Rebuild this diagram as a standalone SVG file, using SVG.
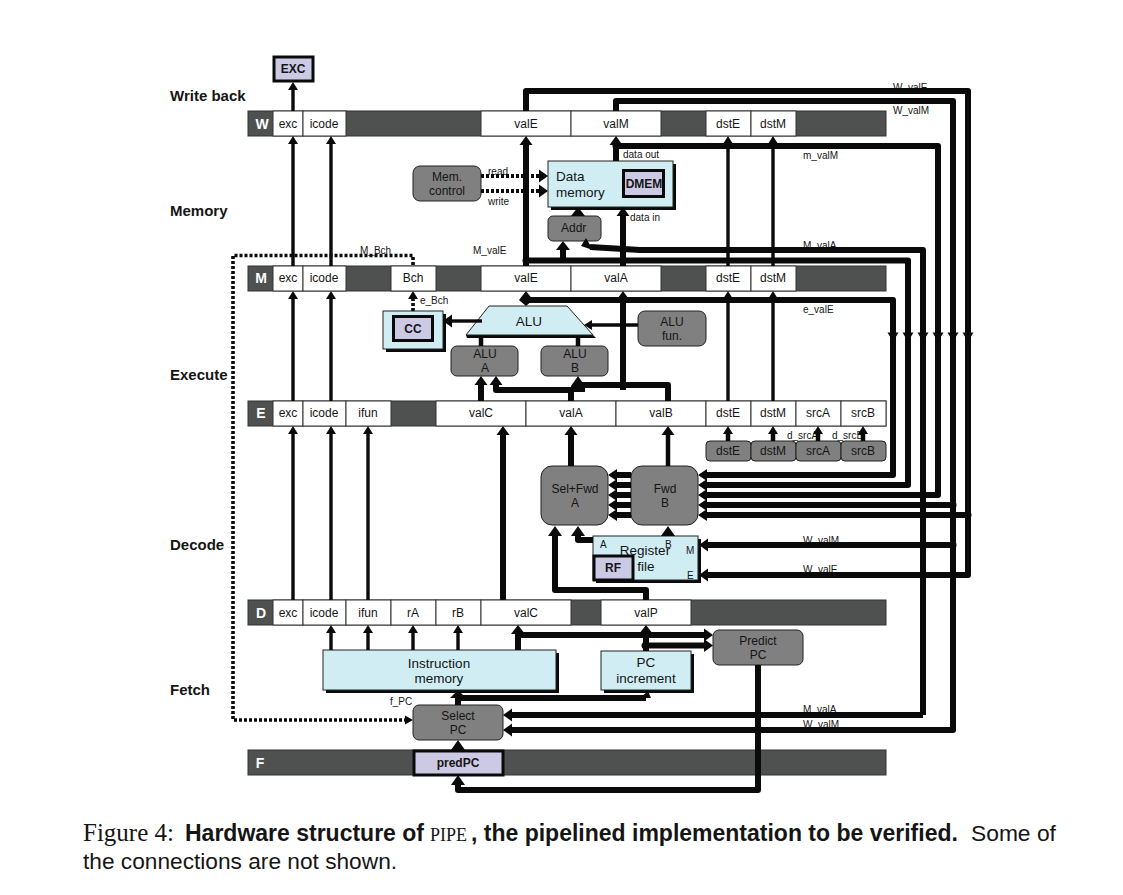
<svg xmlns="http://www.w3.org/2000/svg" xmlns:xlink="http://www.w3.org/1999/xlink" width="1123" height="895" viewBox="0 0 1123 895">
<style>
text{font-family:"Liberation Sans",Arial,sans-serif;fill:#151515}
.bar{fill:#4f5150;stroke:#333;stroke-width:1}
.c{fill:#fff;stroke:#333;stroke-width:1}
.ct{font-size:12px;text-anchor:middle}
.rl{font-size:14px;font-weight:bold;fill:#fff;text-anchor:middle}
.st{font-size:15px;font-weight:bold}
.g{fill:#808080;stroke:#222;stroke-width:1}
.gt{font-size:12px;text-anchor:middle}
.b{fill:#d0edf4;stroke:#222;stroke-width:1}
.sh{fill:#0a0a0a}
.hw{fill:#ccc9e4;stroke:#0a0a0a;stroke-width:3}
.hwt{font-size:12px;font-weight:bold;text-anchor:middle}
.bt{font-size:13.500px;text-anchor:middle}
.lb{font-size:10px}
.w6,.w4,.w3,.d{fill:none;stroke:#0a0a0a;stroke-linejoin:round}
.w6{stroke-width:6}
.w4{stroke-width:4.5}
.w3{stroke-width:3.4}
.d{stroke-width:3.6;stroke-dasharray:3 2}
.a6{marker-end:url(#ah6)}
.a3{marker-end:url(#ah3)}
</style>
<defs>
<marker id="ah6" markerUnits="userSpaceOnUse" markerWidth="10" markerHeight="14" refX="0" refY="7" orient="auto"><path d="M0 0.5L9 7L0 13.500Z" fill="#0a0a0a"/></marker>
<marker id="ah3" markerUnits="userSpaceOnUse" markerWidth="9" markerHeight="12" refX="0" refY="6" orient="auto"><path d="M0 1L8 6L0 11Z" fill="#0a0a0a"/></marker>
<path id="dn" d="M-5.500 -4.500H5.500L0 4.500Z" fill="#0a0a0a"/>
</defs>
<rect width="1123" height="895" fill="#fff"/>

<g id="stage-labels">
<text class="st" x="170" y="101">Write back</text>
<text class="st" x="170" y="216">Memory</text>
<text class="st" x="170" y="380">Execute</text>
<text class="st" x="170" y="550">Decode</text>
<text class="st" x="170" y="695">Fetch</text>
</g>

<g id="reg-W">
<rect class="bar" x="248" y="111" width="638" height="25"/>
<text class="rl" x="262" y="129">W</text>
<rect class="c" x="273" y="111" width="30" height="25"/><text class="ct" x="288" y="128">exc</text>
<rect class="c" x="303" y="111" width="43" height="25"/><text class="ct" x="324" y="128">icode</text>
<rect class="c" x="481" y="111" width="90" height="25"/><text class="ct" x="526" y="128">valE</text>
<rect class="c" x="571" y="111" width="90" height="25"/><text class="ct" x="616" y="128">valM</text>
<rect class="c" x="706" y="111" width="45" height="25"/><text class="ct" x="728" y="128">dstE</text>
<rect class="c" x="751" y="111" width="45" height="25"/><text class="ct" x="773" y="128">dstM</text>
</g>
<g id="reg-M">
<rect class="bar" x="248" y="266" width="638" height="25"/>
<text class="rl" x="261" y="283">M</text>
<rect class="c" x="273" y="266" width="30" height="25"/><text class="ct" x="288" y="282">exc</text>
<rect class="c" x="303" y="266" width="43" height="25"/><text class="ct" x="324" y="282">icode</text>
<rect class="c" x="391" y="266" width="45" height="25"/><text class="ct" x="413" y="282">Bch</text>
<rect class="c" x="481" y="266" width="90" height="25"/><text class="ct" x="526" y="282">valE</text>
<rect class="c" x="571" y="266" width="90" height="25"/><text class="ct" x="616" y="282">valA</text>
<rect class="c" x="706" y="266" width="45" height="25"/><text class="ct" x="728" y="282">dstE</text>
<rect class="c" x="751" y="266" width="45" height="25"/><text class="ct" x="773" y="282">dstM</text>
</g>
<g id="reg-E">
<rect class="bar" x="248" y="401" width="638" height="25"/>
<text class="rl" x="261" y="418">E</text>
<rect class="c" x="273" y="401" width="30" height="25"/><text class="ct" x="288" y="417">exc</text>
<rect class="c" x="303" y="401" width="43" height="25"/><text class="ct" x="324" y="417">icode</text>
<rect class="c" x="346" y="401" width="45" height="25"/><text class="ct" x="368" y="417">ifun</text>
<rect class="c" x="436" y="401" width="90" height="25"/><text class="ct" x="481" y="417">valC</text>
<rect class="c" x="526" y="401" width="90" height="25"/><text class="ct" x="571" y="417">valA</text>
<rect class="c" x="616" y="401" width="90" height="25"/><text class="ct" x="661" y="417">valB</text>
<rect class="c" x="706" y="401" width="45" height="25"/><text class="ct" x="728" y="417">dstE</text>
<rect class="c" x="751" y="401" width="45" height="25"/><text class="ct" x="773" y="417">dstM</text>
<rect class="c" x="796" y="401" width="45" height="25"/><text class="ct" x="818" y="417">srcA</text>
<rect class="c" x="841" y="401" width="45" height="25"/><text class="ct" x="863" y="417">srcB</text>
</g>
<g id="reg-D">
<rect class="bar" x="248" y="600" width="638" height="25"/>
<text class="rl" x="261" y="618">D</text>
<rect class="c" x="273" y="600" width="30" height="25"/><text class="ct" x="288" y="617">exc</text>
<rect class="c" x="303" y="600" width="43" height="25"/><text class="ct" x="324" y="617">icode</text>
<rect class="c" x="346" y="600" width="45" height="25"/><text class="ct" x="368" y="617">ifun</text>
<rect class="c" x="391" y="600" width="45" height="25"/><text class="ct" x="413" y="617">rA</text>
<rect class="c" x="436" y="600" width="45" height="25"/><text class="ct" x="458" y="617">rB</text>
<rect class="c" x="481" y="600" width="90" height="25"/><text class="ct" x="526" y="617">valC</text>
<rect class="c" x="601" y="600" width="90" height="25"/><text class="ct" x="646" y="617">valP</text>
</g>
<g id="reg-F">
<rect class="bar" x="248" y="750" width="638" height="25"/>
<text class="rl" x="260" y="768">F</text>
</g>

<g id="EXC"><rect class="hw" x="274" y="57" width="39" height="24"/><text class="hwt" x="293" y="73">EXC</text></g>

<g id="mem-control"><rect class="g" x="413" y="166" width="68" height="35" rx="7"/><text class="gt" x="447" y="181">Mem.</text><text class="gt" x="447" y="195">control</text></g>
<g id="data-memory"><rect class="sh" x="551" y="164" width="125" height="46"/><rect class="b" x="548" y="161" width="125" height="46"/><text class="bt" x="556" y="181" style="text-anchor:start">Data</text><text class="bt" x="556" y="197" style="text-anchor:start">memory</text><rect class="hw" x="623.500" y="170.500" width="40" height="26"/><text class="hwt" x="644" y="188">DMEM</text></g>
<g id="addr"><rect class="g" x="548" y="216" width="53" height="25" rx="5"/><text class="gt" x="561" y="232" style="text-anchor:start">Addr</text></g>

<g id="CC"><rect class="sh" x="386" y="314" width="60" height="38"/><rect class="b" x="383" y="311" width="60" height="38"/><rect class="hw" x="393.500" y="316.500" width="39" height="24"/><text class="hwt" x="413" y="333">CC</text></g>
<g id="ALU"><path class="sh" d="M467 338H596L593 335H466Z"/><path class="b" d="M489 306H567L593 335H466Z"/><text class="bt" x="529" y="326">ALU</text></g>
<g id="alu-fun"><rect class="g" x="638" y="311" width="68" height="35" rx="7"/><text class="gt" x="672" y="326">ALU</text><text class="gt" x="672" y="340">fun.</text></g>
<g id="alu-A"><rect class="g" x="451" y="346" width="67" height="30" rx="6"/><text class="gt" x="485" y="358">ALU</text><text class="gt" x="485" y="372">A</text></g>
<g id="alu-B"><rect class="g" x="541" y="346" width="67" height="30" rx="6"/><text class="gt" x="575" y="358">ALU</text><text class="gt" x="575" y="372">B</text></g>

<g id="d-dstE"><rect class="g" x="706" y="441" width="45" height="20" rx="4"/><text class="ct" x="728" y="455">dstE</text></g>
<g id="d-dstM"><rect class="g" x="751" y="441" width="45" height="20" rx="4"/><text class="ct" x="773" y="455">dstM</text></g>
<g id="d-srcA"><rect class="g" x="796" y="441" width="45" height="20" rx="4"/><text class="ct" x="818" y="455">srcA</text></g>
<g id="d-srcB"><rect class="g" x="841" y="441" width="45" height="20" rx="4"/><text class="ct" x="863" y="455">srcB</text></g>

<g id="sel-fwd-A"><rect class="g" x="541" y="466" width="67" height="59" rx="11"/><text class="gt" x="575" y="493">Sel+Fwd</text><text class="gt" x="575" y="507">A</text></g>
<g id="fwd-B"><rect class="g" x="631" y="466" width="67" height="59" rx="11"/><text class="gt" x="665" y="493">Fwd</text><text class="gt" x="665" y="507">B</text></g>

<g id="register-file"><rect class="sh" x="596" y="539" width="105" height="44"/><rect class="b" x="593" y="536" width="105" height="44"/><text class="lb" x="600" y="548">A</text><text class="lb" x="665" y="548">B</text><text class="lb" x="686" y="554">M</text><text class="lb" x="687" y="579">E</text><text class="bt" x="645" y="555">Register</text><text class="bt" x="646" y="571">file</text><rect class="hw" x="594" y="556" width="39" height="24"/><text class="hwt" x="613" y="572">RF</text></g>

<g id="instruction-memory"><rect class="sh" x="326" y="653" width="233" height="40"/><rect class="b" x="323" y="650" width="233" height="40"/><text class="bt" x="439" y="668">Instruction</text><text class="bt" x="439" y="683">memory</text></g>
<g id="pc-increment"><rect class="sh" x="604" y="654" width="90" height="39"/><rect class="b" x="601" y="651" width="90" height="39"/><text class="bt" x="646" y="667">PC</text><text class="bt" x="646" y="683">increment</text></g>
<g id="predict-pc"><rect class="g" x="713" y="630" width="90" height="35" rx="6"/><text class="gt" x="758" y="645">Predict</text><text class="gt" x="758" y="659">PC</text></g>
<g id="select-pc"><rect class="g" x="413" y="705" width="90" height="35" rx="6"/><text class="gt" x="458" y="720">Select</text><text class="gt" x="458" y="734">PC</text></g>
<g id="predPC"><rect class="hw" x="414" y="751" width="89" height="24"/><text class="hwt" x="458" y="767">predPC</text></g>

<g id="wire-labels">
<text class="lb" x="893" y="91">W_valE</text>
<text class="lb" x="893" y="114">W_valM</text>
<text class="lb" x="623" y="158">data out</text>
<text class="lb" x="803" y="159">m_valM</text>
<text class="lb" x="488" y="175">read</text>
<text class="lb" x="488" y="205">write</text>
<text class="lb" x="630" y="221">data in</text>
<text class="lb" x="803" y="249">M_valA</text>
<text class="lb" x="360" y="254">M_Bch</text>
<text class="lb" x="473" y="254">M_valE</text>
<text class="lb" x="420" y="304">e_Bch</text>
<text class="lb" x="803" y="313">e_valE</text>
<text class="lb" x="787" y="439">d_srcA</text>
<text class="lb" x="832" y="439">d_srcB</text>
<text class="lb" x="803" y="544">W_valM</text>
<text class="lb" x="803" y="573">W_valE</text>
<text class="lb" x="390" y="705">f_PC</text>
<text class="lb" x="803" y="713">M_valA</text>
<text class="lb" x="803" y="728">W_valM</text>
</g>

<g id="connectors">
<path class="w3 a3" d="M293 111V90"/>
<path class="w3 a3" d="M293 266V144"/>
<path class="w3 a3" d="M331 266V144"/>
<path class="w3 a3" d="M293 401V299"/>
<path class="w3 a3" d="M331 401V299"/>
<path class="w3 a3" d="M293 600V434"/>
<path class="w3 a3" d="M331 600V434"/>
<path class="w3 a3" d="M368 600V434"/>
<path class="w3 a3" d="M728 266V144"/>
<path class="w3 a3" d="M773 266V144"/>
<path class="w3 a3" d="M728 401V299"/>
<path class="w3 a3" d="M773 401V299"/>
<path class="w4 a3" d="M728 441V434"/>
<path class="w4 a3" d="M773 441V434"/>
<path class="w4 a3" d="M818 441V434"/>
<path class="w4 a3" d="M863 441V434"/>
<path class="w3 a3" d="M331 650V633"/>
<path class="w3 a3" d="M368 650V633"/>
<path class="w3 a3" d="M413 650V633"/>
<path class="w3 a3" d="M458 650V633"/>
<path class="d" d="M413 265V255.500H233V720H405"/>
<path d="M405 715.500L413 720L405 724.500Z" fill="#0a0a0a"/>
<path class="d a3" d="M413 311V299"/>
<path class="d a6" style="stroke-width:4" d="M481 176H539"/>
<path class="d a6" style="stroke-width:4" d="M481 191H539"/>
<path class="w3 a6" d="M482 321H452"/>
<path class="w3 a3" d="M638 325H592"/>
<path class="w4" d="M481 338V346M578 338V346"/>
<path class="w6 a6" d="M481 401V385"/>
<path class="w6 a6" d="M571 401V390H496V385"/>
<path class="w6" d="M668 401V385H578"/>
<path d="M571 386L578 376L585 386V392H571Z" fill="#0a0a0a"/>
<path class="w6 a6" d="M623 390V300"/>
<path class="w6 a6" d="M526 266V145"/>
<circle cx="526" cy="260.500" r="3.500" fill="#0a0a0a"/>
<path class="w6" d="M526 111V91H968V575H708"/>
<path class="w6" d="M616 111V101H953V730H512"/>
<path class="w6 a6" d="M616 161V145"/>
<circle cx="616" cy="146" r="3.500" fill="#0a0a0a"/>
<path class="w6" d="M616 146H938V495H707"/>
<path class="w6" d="M526 260.500H908V485H707"/>
<path class="w6" d="M563 260.500V250"/>
<path d="M556 250L563 241L570 250Z" fill="#0a0a0a"/>
<path d="M571 216L578 207L585 216Z" fill="#0a0a0a"/>
<path class="w6 a6" d="M623 266V216"/>
<path class="w6" d="M923 715V250H640L590 247"/>
<path d="M581 246L586 238L593 250Z" fill="#0a0a0a"/>
<path class="w6" d="M526 300H893V475H707"/>
<path d="M519 300L526 291L533 300L526 306Z" fill="#0a0a0a"/>
<use xlink:href="#dn" href="#dn" x="893" y="337"/>
<use xlink:href="#dn" href="#dn" x="908" y="337"/>
<use xlink:href="#dn" href="#dn" x="923" y="337"/>
<use xlink:href="#dn" href="#dn" x="938" y="337"/>
<use xlink:href="#dn" href="#dn" x="953" y="337"/>
<use xlink:href="#dn" href="#dn" x="968" y="337"/>
<path class="w6" d="M953 505H707M968 515H707"/>
<circle cx="953" cy="505" r="3.500" fill="#0a0a0a"/>
<circle cx="968" cy="515" r="3.500" fill="#0a0a0a"/>
<circle cx="953" cy="545" r="3.500" fill="#0a0a0a"/>
<path class="w6" d="M953 545H708"/>
<path d="M707 469L698 475L707 481Z M707 479L698 485L707 491Z M707 489L698 495L707 501Z M707 499L698 505L707 511Z M707 509L698 515L707 521Z M708 538.500L699 545L708 551.500Z M708 568.500L699 575L708 581.500Z" fill="#0a0a0a"/>
<path class="w6" d="M631 475H617M631 485H617M631 495H617M631 505H617M631 515H617"/>
<path d="M617 469L608 475L617 481Z M617 479L608 485L617 491Z M617 489L608 495L617 501Z M617 499L608 505L617 511Z M617 509L608 515L617 521Z" fill="#0a0a0a"/>
<path class="w6 a6" d="M571 466V435"/>
<path class="w4 a6" d="M668 466V435"/>
<path class="w6 a6" d="M503 600V435"/>
<path class="w6" d="M593 540H578V535"/>
<path d="M571 536L578 526L585 536Z" fill="#0a0a0a"/>
<path d="M661 536L668 526L675 536Z" fill="#0a0a0a"/>
<path class="w6" d="M646 600V590H555V535"/>
<path d="M548 536L555 526L562 536Z" fill="#0a0a0a"/>
<path class="w6" d="M518 650V633"/>
<path d="M511 634L518 625L525 634Z" fill="#0a0a0a"/>
<path class="w6 a6" d="M518 635H704"/>
<path class="w6" d="M646 651V634"/>
<path d="M639 634L646 625L653 634Z" fill="#0a0a0a"/>
<circle cx="645" cy="645.500" r="3.500" fill="#0a0a0a"/>
<path class="w6 a6" d="M646 645.500H704"/>
<path class="w6" d="M458 705V698H646"/>
<path d="M450 698L458 690L466 698Z M640 698L648 691L651 698Z" fill="#0a0a0a"/>
<path class="w6 a6" d="M923 715H512"/>
<path d="M512 723.500L503 730L512 736.500Z" fill="#0a0a0a"/>
<path d="M458 740L451 750H465Z" fill="#0a0a0a"/>
<path class="w6" d="M758 665V790H458V784"/>
<path d="M451 785L458 775L465 785Z" fill="#0a0a0a"/>
</g>

<g id="caption">
<text x="83" y="841" style="font-family:'Liberation Serif',serif;font-size:25px">Figure 4:</text>
<text x="185" y="841" style="font-size:23px;font-weight:bold">Hardware structure of</text>
<text x="430" y="841" style="font-family:'Liberation Serif',serif;font-size:18px">PIPE</text>
<text x="471" y="841" style="font-size:23px;font-weight:bold">, the pipelined implementation to be verified.</text>
<text x="971" y="841" style="font-size:22.800px">Some of</text>
<text x="83" y="869" style="font-size:22.700px">the connections are not shown.</text>
</g>
</svg>
